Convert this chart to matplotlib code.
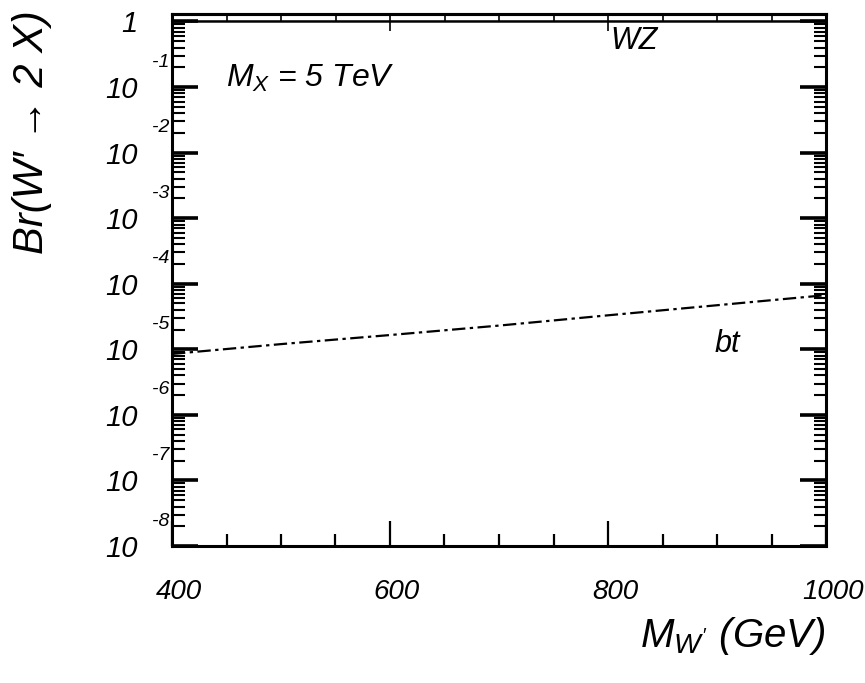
import matplotlib
matplotlib.use("Agg")
import matplotlib.pyplot as plt
import matplotlib.ticker as mticker
import matplotlib.transforms as mtransforms
import numpy as np

# valores
masa_w = [400, 500, 600, 700, 800, 900, 1000]
br_bt = [8.5e-6, 1.2e-5, 1.65e-5, 2.3e-5, 3.3e-5, 4.7e-5, 6.7e-5]
br_wz = [0.99999, 0.99999, 0.99998, 0.99998, 0.99997, 0.99995, 0.99993]

exponentes = [-1, -2, -3, -4, -5, -6, -7, -8]
etiquetas_x = ["400", "600", "800", "1000"]

plt.rcParams['font.family'] = ['Liberation Sans', 'DejaVu Sans']
plt.rcParams['font.style'] = 'italic'
plt.rcParams['mathtext.fontset'] = 'custom'
plt.rcParams['mathtext.it'] = 'Liberation Sans:italic'
plt.rcParams['mathtext.rm'] = 'Liberation Sans:italic'
plt.rcParams['mathtext.default'] = 'it'

fig = plt.figure(figsize=(8.65, 6.83), dpi=100)
ax = fig.add_axes([172/865, 137/683, 654/865, 532/683])

ax.plot(masa_w, br_bt, color='black', lw=1.6, linestyle=(0, (6, 2, 1.5, 2)))
ax.plot(masa_w, br_wz, color='black', lw=1.8)

ax.set_yscale('log')
ax.set_xlim(400, 1000)
ax.set_ylim(1e-8, 1.3)

# eje y
ax.yaxis.set_major_locator(mticker.FixedLocator([10.0**k for k in range(-8, 1)]))
ax.yaxis.set_major_formatter(mticker.FixedFormatter(["10"] * 8 + ["1"]))
ax.yaxis.set_minor_locator(mticker.LogLocator(base=10, subs=np.arange(2, 10), numticks=20))
ax.yaxis.set_minor_formatter(mticker.NullFormatter())
ax.tick_params(axis='y', which='major', direction='in', length=19, width=2.6,
               left=True, right=True, labelsize=21, pad=25)
ax.tick_params(axis='y', which='minor', direction='in', length=9, width=1.5,
               left=True, right=True)

trans = mtransforms.blended_transform_factory(ax.transAxes, ax.transData)
for k in exponentes:
    ax.text(-0.004, 10.0**(k + 0.38), str(k), transform=trans, ha='right',
            va='center', fontsize=14, clip_on=False)

# eje x
ax.xaxis.set_major_locator(mticker.FixedLocator([400, 600, 800, 1000]))
ax.xaxis.set_major_formatter(mticker.FixedFormatter(etiquetas_x))
ax.xaxis.set_minor_locator(mticker.MultipleLocator(50))
ax.tick_params(axis='x', which='major', direction='in', length=18, width=1.6,
               labelsize=20, pad=24)
ax.tick_params(axis='x', which='minor', direction='in', length=9, width=1.6)
desplazar = mtransforms.ScaledTranslation(7/100, 0, fig.dpi_scale_trans)
for etiqueta in ax.get_xticklabels():
    etiqueta.set_transform(etiqueta.get_transform() + desplazar)

arriba = ax.secondary_xaxis('top')
arriba.xaxis.set_major_locator(mticker.FixedLocator([400, 600, 800, 1000]))
arriba.xaxis.set_minor_locator(mticker.MultipleLocator(50))
arriba.xaxis.set_major_formatter(mticker.NullFormatter())
arriba.tick_params(axis='x', which='major', direction='in', length=12, width=1.2)
arriba.tick_params(axis='x', which='minor', direction='in', length=5, width=1.2)
arriba.spines['top'].set_linewidth(2.2)

for lado in ax.spines.values():
    lado.set_linewidth(2.2)

ax.set_xlabel("$M_{W'}$ (GeV)", fontsize=29, ha='right')
ax.xaxis.set_label_coords(1.0, -0.13)
ax.set_ylabel("Br(W′ → 2 X)", fontsize=30, ha='right')
ax.yaxis.set_label_coords(-0.183, 1.0075)

ax.text(0.082, 0.878, "$M_X$ = 5 TeV", transform=ax.transAxes, fontsize=23,
        ha='left', va='center')
ax.text(0.67, 0.95, "WZ", transform=ax.transAxes, fontsize=22,
        ha='left', va='center')
ax.text(0.83, 0.38, "bt", transform=ax.transAxes, fontsize=22,
        ha='left', va='center')

fig.savefig("out.png", dpi=100)
